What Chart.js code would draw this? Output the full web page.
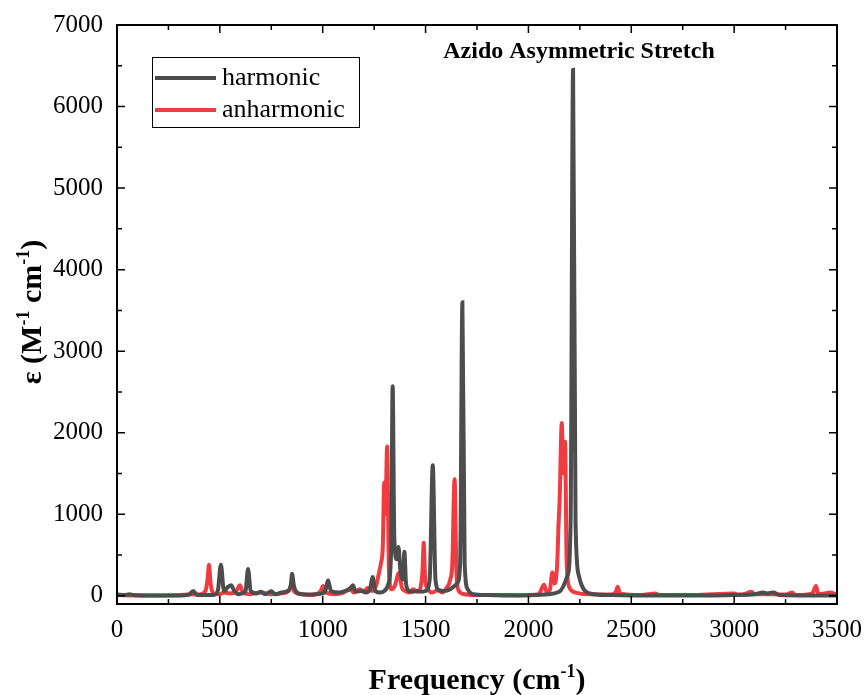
<!DOCTYPE html>
<html>
<head>
<meta charset="utf-8">
<script src="https://cdn.jsdelivr.net/npm/chart.js@4.4.0/dist/chart.umd.min.js"></script>
<style>
  html, body { margin: 0; padding: 0; background: #fff; }
  #wrap { width: 868px; height: 695px; }
</style>
</head>
<body>
<div id="wrap"><canvas id="spectrum" width="868" height="695"></canvas></div>
<script>
// spectrum (frequency in cm-1, epsilon in M-1 cm-1)
const harmonicX = [0, 40, 60, 80, 150, 300, 350, 370, 390, 470, 490, 505, 520, 540, 555, 570, 590, 610, 625, 637, 650, 680, 700, 720, 750, 770, 800, 830, 845, 851, 860, 880, 920, 960, 1000, 1015, 1026, 1040, 1080, 1110, 1130, 1147, 1160, 1190, 1210, 1230, 1243, 1255, 1280, 1300, 1320, 1333, 1340, 1348, 1360, 1368, 1378, 1390, 1397, 1405, 1420, 1440, 1460, 1480, 1500, 1520, 1535, 1548, 1565, 1590, 1620, 1645, 1655, 1668, 1679, 1690, 1705, 1730, 1800, 1900, 2000, 2100, 2150, 2190, 2205, 2217, 2229, 2245, 2275, 2320, 2400, 2500, 2700, 2900, 3000, 3100, 3140, 3160, 3190, 3220, 3350, 3500];
const harmonicY = [15, 10, 20, 10, 5, 5, 15, 60, 10, 10, 60, 380, 60, 110, 130, 60, 20, 30, 60, 330, 60, 30, 50, 20, 55, 20, 40, 60, 130, 270, 120, 30, 15, 20, 30, 80, 190, 60, 40, 60, 80, 130, 50, 60, 40, 80, 230, 60, 40, 60, 150, 600, 2570, 700, 450, 600, 300, 200, 540, 150, 60, 50, 60, 50, 60, 200, 1600, 200, 70, 60, 80, 130, 160, 400, 3600, 400, 80, 20, 10, 5, 8, 20, 50, 250, 900, 6450, 900, 250, 60, 20, 10, 5, 5, 5, 10, 20, 40, 30, 40, 10, 5, 5];

const anharmonicX = [0, 100, 300, 360, 400, 430, 440, 447, 455, 470, 500, 520, 550, 580, 598, 612, 640, 700, 750, 800, 835, 850, 862, 900, 950, 990, 1002, 1015, 1060, 1100, 1133, 1150, 1180, 1200, 1220, 1240, 1260, 1275, 1283, 1292, 1299, 1305, 1313, 1322, 1335, 1350, 1371, 1385, 1400, 1420, 1440, 1460, 1475, 1485, 1491, 1498, 1512, 1530, 1560, 1580, 1600, 1620, 1630, 1641, 1650, 1662, 1690, 1750, 1850, 1950, 2050, 2076, 2090, 2105, 2116, 2128, 2140, 2146, 2152, 2162, 2170, 2178, 2186, 2200, 2230, 2300, 2400, 2425, 2434, 2445, 2550, 2615, 2640, 2800, 3000, 3020, 3060, 3083, 3100, 3180, 3250, 3282, 3300, 3380, 3398, 3410, 3470, 3500];
const anharmonicY = [10, 5, 8, 20, 15, 60, 200, 380, 150, 30, 20, 40, 30, 60, 130, 40, 20, 40, 20, 30, 60, 150, 50, 20, 10, 60, 120, 40, 20, 40, 90, 40, 80, 50, 100, 60, 130, 300, 400, 600, 1390, 1000, 1830, 300, 80, 120, 280, 100, 60, 40, 80, 50, 100, 300, 650, 200, 80, 40, 70, 40, 90, 200, 400, 1430, 300, 60, 20, 10, 10, 8, 20, 135, 40, 80, 285, 150, 400, 850, 1200, 2120, 1500, 1890, 400, 100, 40, 20, 15, 50, 110, 30, 10, 30, 10, 10, 30, 15, 30, 50, 20, 20, 15, 40, 10, 30, 120, 20, 40, 10];

const xTicks = [0, 500, 1000, 1500, 2000, 2500, 3000, 3500];
const yTicks = [0, 1000, 2000, 3000, 4000, 5000, 6000, 7000];
const seriesNames = ['harmonic', 'anharmonic'];
const annotation = 'Azido Asymmetric Stretch';

const grey = '#4d4d4d';
const red = '#f03c40';
const serif = '"Liberation Serif", "Times New Roman", serif';

const toPoints = (xs, ys) => xs.map((x, i) => ({ x: x, y: ys[i] }));

// frame, inward ticks, legend, annotation and axis titles with superscripts
const decorations = {
    id: 'decorations',
    afterDraw(chart) {
        const ctx = chart.ctx;
        const a = chart.chartArea;
        const xs = chart.scales.x, ys = chart.scales.y;
        ctx.save();
        ctx.strokeStyle = '#000';
        ctx.lineWidth = 2;
        ctx.strokeRect(a.left, a.top, a.right - a.left, a.bottom - a.top);

        ctx.lineWidth = 1.5;
        ctx.beginPath();
        for (let v = 0; v <= 3500; v += 250) {
            const p = xs.getPixelForValue(v);
            const len = v % 500 === 0 ? 8 : 5;
            ctx.moveTo(p, a.bottom); ctx.lineTo(p, a.bottom - len);
            ctx.moveTo(p, a.top); ctx.lineTo(p, a.top + len);
        }
        for (let v = 0; v <= 7000; v += 500) {
            const p = ys.getPixelForValue(v);
            const len = v % 1000 === 0 ? 8 : 5;
            ctx.moveTo(a.left, p); ctx.lineTo(a.left + len, p);
            ctx.moveTo(a.right, p); ctx.lineTo(a.right - len, p);
        }
        ctx.stroke();

        // legend
        ctx.lineWidth = 1;
        ctx.strokeRect(152.5, 57.5, 207, 70);
        const cols = [grey, red];
        ctx.font = '26px ' + serif;
        ctx.textBaseline = 'middle';
        ctx.fillStyle = '#000';
        seriesNames.forEach((name, i) => {
            const y = 78 + i * 32;
            ctx.strokeStyle = cols[i];
            ctx.lineWidth = 4;
            ctx.beginPath();
            ctx.moveTo(155, y); ctx.lineTo(216, y);
            ctx.stroke();
            ctx.fillText(name, 222, y);
        });

        // annotation
        ctx.font = 'bold 24px ' + serif;
        ctx.textAlign = 'center';
        ctx.textBaseline = 'alphabetic';
        ctx.fillText(annotation, 579, 58);

        // axis titles
        const drawParts = (parts, x, y, rotate) => {
            ctx.save();
            ctx.translate(x, y);
            if (rotate) ctx.rotate(-Math.PI / 2);
            ctx.textAlign = 'left';
            ctx.textBaseline = 'alphabetic';
            let total = 0;
            parts.forEach(p => {
                ctx.font = 'bold ' + (p.sup ? 18 : 30) + 'px ' + serif;
                total += ctx.measureText(p.t).width;
            });
            let cx = -total / 2;
            parts.forEach(p => {
                ctx.font = 'bold ' + (p.sup ? 18 : 30) + 'px ' + serif;
                ctx.fillText(p.t, cx, p.sup ? -12 : 0);
                cx += ctx.measureText(p.t).width;
            });
            ctx.restore();
        };
        drawParts([{ t: 'Frequency (cm' }, { t: '-1', sup: true }, { t: ')' }], 477, 689, false);
        drawParts([{ t: 'ε (M' }, { t: '-1', sup: true }, { t: ' cm' }, { t: '-1', sup: true }, { t: ')' }], 41, 312, true);
        ctx.restore();
    }
};

new Chart(document.getElementById('spectrum'), {
    type: 'scatter',
    data: {
        datasets: [
            { label: seriesNames[0], data: toPoints(harmonicX, harmonicY), borderColor: grey, backgroundColor: grey },
            { label: seriesNames[1], data: toPoints(anharmonicX, anharmonicY), borderColor: red, backgroundColor: red }
        ]
    },
    options: {
        responsive: false,
        animation: false,
        showLine: true,
        layout: { padding: { top: 25, right: 31, left: 0, bottom: 0 } },
        elements: {
            point: { radius: 0 },
            line: { borderWidth: 4, cubicInterpolationMode: 'monotone' }
        },
        plugins: { legend: { display: false }, tooltip: { enabled: false } },
        scales: {
            x: {
                type: 'linear', min: 0, max: 3500,
                grid: { display: false, drawTicks: false },
                border: { display: false },
                afterBuildTicks: s => { s.ticks = xTicks.map(v => ({ value: v })); },
                afterFit: s => { s.height = 91; s.paddingLeft = 0; s.paddingRight = 0; },
                ticks: { color: '#000', padding: 11, maxRotation: 0, callback: v => String(v), font: { family: serif, size: 25 } }
            },
            y: {
                type: 'linear', min: -100, max: 7000,
                grid: { display: false, drawTicks: false },
                border: { display: false },
                afterBuildTicks: s => { s.ticks = yTicks.map(v => ({ value: v })); },
                afterFit: s => { s.width = 117; s.paddingTop = 0; s.paddingBottom = 0; },
                ticks: { color: '#000', padding: 14, callback: v => String(v), font: { family: serif, size: 25 } }
            }
        }
    },
    plugins: [decorations]
});
</script>
</body>
</html>
